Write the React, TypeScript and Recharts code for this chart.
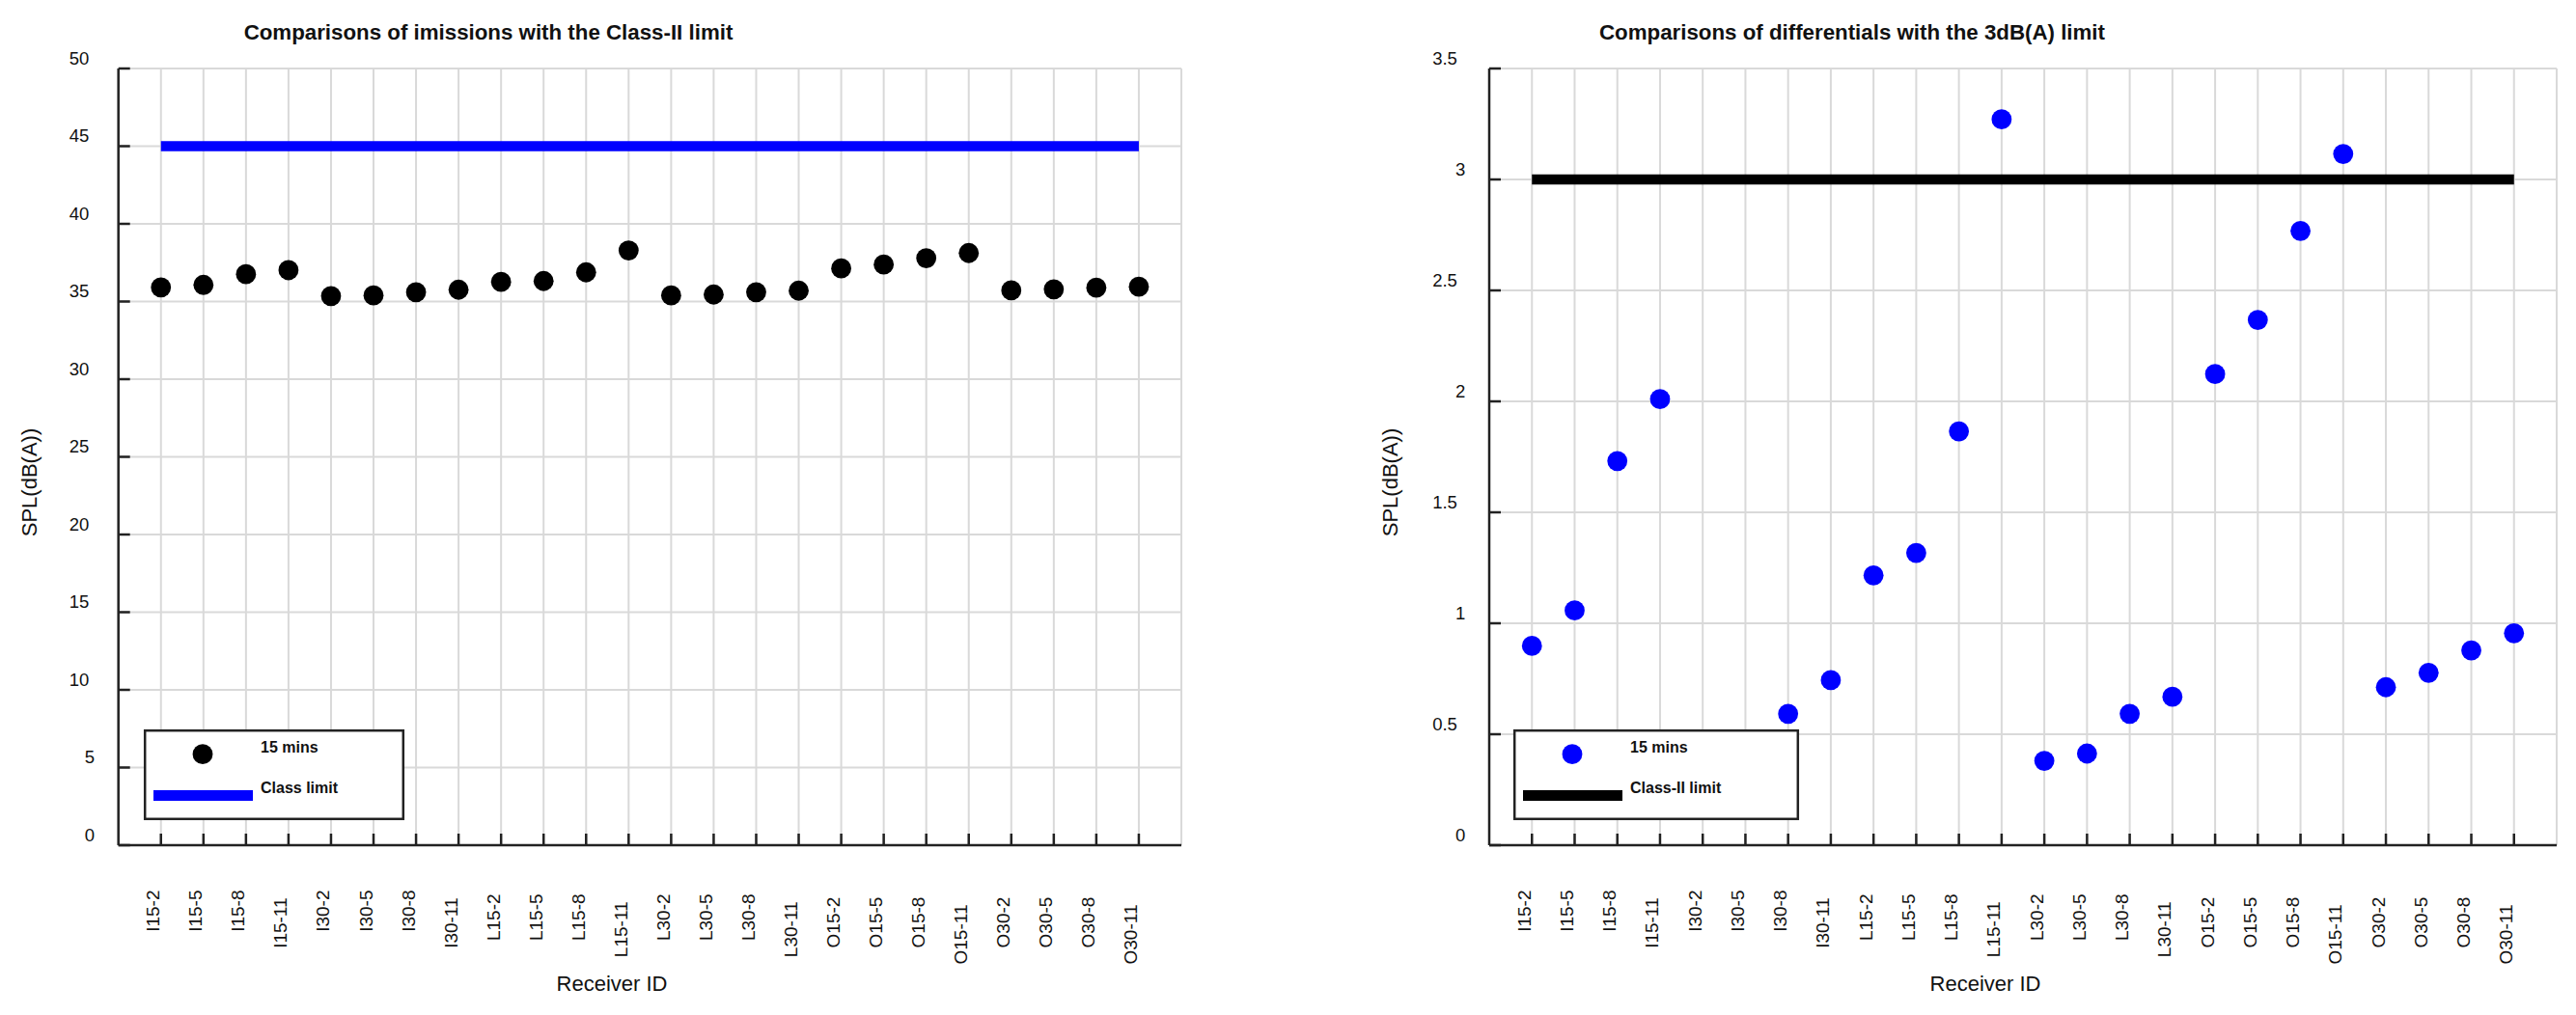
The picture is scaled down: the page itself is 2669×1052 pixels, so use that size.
import React from 'react';
import { ScatterChart, Scatter, XAxis, YAxis, CartesianGrid } from 'recharts';

// Receiver IDs along the x axis (shared by both panels)
const receivers = [
  'I15-2', 'I15-5', 'I15-8', 'I15-11', 'I30-2', 'I30-5', 'I30-8', 'I30-11',
  'L15-2', 'L15-5', 'L15-8', 'L15-11', 'L30-2', 'L30-5', 'L30-8', 'L30-11',
  'O15-2', 'O15-5', 'O15-8', 'O15-11', 'O30-2', 'O30-5', 'O30-8', 'O30-11',
];

// 15 mins emission levels, dB(A)
const emissions15 = [
  35.91, 36.07, 36.76, 37.02, 35.35, 35.39, 35.6, 35.76,
  36.26, 36.32, 36.88, 38.29, 35.39, 35.45, 35.6, 35.7,
  37.13, 37.38, 37.79, 38.12, 35.72, 35.79, 35.89, 35.95,
];

// 15 mins differentials, dB(A) (null = no point drawn)
const differentials15: (number | null)[] = [
  0.898, 1.058, 1.731, 2.01, null, null, 0.592, 0.744,
  1.216, 1.317, 1.865, 3.271, 0.38, 0.413, 0.592, 0.669,
  2.123, 2.367, 2.768, 3.115, 0.712, 0.777, 0.878, 0.955,
];

const emissionTicks = [0, 5, 10, 15, 20, 25, 30, 35, 40, 45, 50];
const differentialTicks = [0, 0.5, 1, 1.5, 2, 2.5, 3, 3.5];

const CLASS_II_LIMIT = 45;
const DIFFERENTIAL_LIMIT = 3;

const FONT = '"Liberation Sans", Arial, sans-serif';
const AXIS = '#222';
const GRID = '#d9d9d9';
const BLUE = '#0000ff';
const BLACK = '#000';

const PLOT_TOP = 71;
const PLOT_BOTTOM = 876;
const HEIGHT = 1052;

// rough Arial advance widths, used to mimic the odd label offsets of the original
const CHAR_W: Record<string, number> = { '.': 0.278, '-': 0.333, I: 0.278, L: 0.556, O: 0.778 };
const textWidth = (s: string, size: number) =>
  [...s].reduce((w, c) => w + (CHAR_W[c] ?? 0.556), 0) * size;

const XTick = (props: any) => {
  const { x, y, payload } = props;
  const label = receivers[payload.value - 1];
  if (!label) return null;
  const size = 19;
  const top = y + 14 + 0.75 * textWidth(label, size);
  return (
    <g>
      <line x1={x} x2={x} y1={y} y2={y - 12} stroke={AXIS} strokeWidth={2.5} />
      <text
        transform={`translate(${x - 1.5},${top}) rotate(-90)`}
        textAnchor="end"
        fontSize={size}
        fontFamily={FONT}
        fill="#111"
      >
        {label}
      </text>
    </g>
  );
};

const YTick = (props: any) => {
  const { x, y, payload } = props;
  const label = String(payload.value);
  const size = 18.5;
  const w = textWidth(label, size);
  return (
    <g>
      <line x1={x} x2={x + 12} y1={y} y2={y} stroke={AXIS} strokeWidth={2.5} />
      <text x={x - 19 - 0.55 * w} y={y - 4.5} textAnchor="end" fontSize={size} fontFamily={FONT} fill="#111">
        {label}
      </text>
    </g>
  );
};

const dot = (color: string) => (p: any) => <circle cx={p.cx} cy={p.cy} r={10.4} fill={color} />;
const noDot = () => <g />;

interface PanelProps {
  left: number;
  width: number;
  yAxisWidth: number;
  marginRight: number;
  values: (number | null)[];
  limit: number;
  yTicks: number[];
  dotColor: string;
  lineColor: string;
}

const Panel: React.FC<PanelProps> = ({ left, width, yAxisWidth, marginRight, values, limit, yTicks, dotColor, lineColor }) => {
  const points = values
    .map((v, i) => ({ x: i + 1, y: v }))
    .filter(p => p.y !== null);
  const limitPoints = receivers.map((_, i) => ({ x: i + 1, y: limit }));

  return (
    <div style={{ position: 'absolute', left, top: 0 }}>
      <ScatterChart
        width={width}
        height={HEIGHT}
        margin={{ top: PLOT_TOP, right: marginRight, bottom: 0, left: 0 }}
      >
        <CartesianGrid stroke={GRID} strokeWidth={2} />
        <XAxis
          type="number"
          dataKey="x"
          domain={[0, receivers.length + 1]}
          ticks={receivers.map((_, i) => i + 1)}
          interval={0}
          height={HEIGHT - PLOT_BOTTOM}
          tick={<XTick />}
          tickLine={false}
          tickSize={0}
          tickMargin={0}
          axisLine={{ stroke: AXIS, strokeWidth: 2.5 }}
          allowDataOverflow
        />
        <YAxis
          type="number"
          dataKey="y"
          domain={[0, yTicks[yTicks.length - 1]]}
          ticks={yTicks}
          interval={0}
          width={yAxisWidth}
          tick={<YTick />}
          tickLine={false}
          tickSize={0}
          tickMargin={0}
          axisLine={{ stroke: AXIS, strokeWidth: 2.5 }}
          allowDataOverflow
        />
        <Scatter
          data={limitPoints}
          fill={lineColor}
          line={{ stroke: lineColor, strokeWidth: 10.7 }}
          lineType="joint"
          shape={noDot}
          legendType="none"
          isAnimationActive={false}
        />
        <Scatter data={points} fill={dotColor} shape={dot(dotColor)} isAnimationActive={false} />
      </ScatterChart>
    </div>
  );
};

const LegendBox: React.FC<{ x: number; width: number; dotColor: string; lineColor: string; label: string }> = ({
  x, width, dotColor, lineColor, label,
}) => (
  <g fontFamily={FONT} fontWeight="bold" fontSize={16} fill="#111">
    <rect x={x + 1.2} y={757.2} width={width - 2.4} height={91.6} fill="#fff" stroke={AXIS} strokeWidth={2.5} />
    <circle cx={x + 61} cy={781.7} r={10.4} fill={dotColor} />
    <text x={x + 121} y={779.5}>15 mins</text>
    <line x1={x + 10} x2={x + 113} y1={824.5} y2={824.5} stroke={lineColor} strokeWidth={11} />
    <text x={x + 121} y={822}>{label}</text>
  </g>
);

const Overlay: React.FC = () => (
  <svg
    width={2669}
    height={HEIGHT}
    style={{ position: 'absolute', left: 0, top: 0, pointerEvents: 'none' }}
  >
    <g fontFamily={FONT} fontWeight="bold" fontSize={22.3} fill="#111" textAnchor="middle">
      <text x={506} y={41}>Comparisons of imissions with the Class-II limit</text>
      <text x={1919} y={41}>Comparisons of differentials with the 3dB(A) limit</text>
    </g>
    <g fontFamily={FONT} fontSize={22} fill="#111" textAnchor="middle">
      <text x={634} y={1027}>Receiver ID</text>
      <text x={2057} y={1027}>Receiver ID</text>
      <text transform="translate(38,500) rotate(-90)">SPL(dB(A))</text>
      <text transform="translate(1448,500) rotate(-90)">SPL(dB(A))</text>
    </g>
    <LegendBox x={149} width={270} dotColor={BLACK} lineColor={BLUE} label="Class limit" />
    <LegendBox x={1568} width={296} dotColor={BLUE} lineColor={BLACK} label="Class-II limit" />
  </svg>
);

export default function App() {
  return (
    <div style={{ position: 'absolute', left: 0, top: 0, width: 2669, height: HEIGHT, background: '#fff' }}>
      <Panel
        left={0}
        width={1300}
        yAxisWidth={122.7}
        marginRight={76}
        values={emissions15}
        limit={CLASS_II_LIMIT}
        yTicks={emissionTicks}
        dotColor={BLACK}
        lineColor={BLUE}
      />
      <Panel
        left={1330}
        width={1339}
        yAxisWidth={213}
        marginRight={20}
        values={differentials15}
        limit={DIFFERENTIAL_LIMIT}
        yTicks={differentialTicks}
        dotColor={BLUE}
        lineColor={BLACK}
      />
      <Overlay />
    </div>
  );
}
